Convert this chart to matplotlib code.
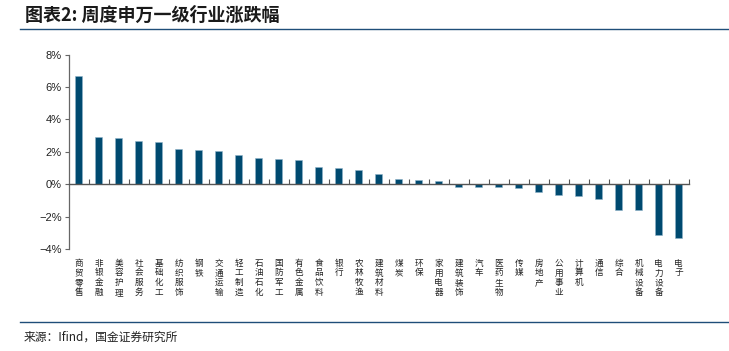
import numpy as np
import matplotlib
matplotlib.use('Agg')
import matplotlib.pyplot as plt
from matplotlib.lines import Line2D

plt.rcParams['font.family'] = ['Noto Sans CJK SC', 'DejaVu Sans']

# 行业名称
industries = ['商贸零售', '非银金融', '美容护理', '社会服务', '基础化工', '纺织服饰', '钢铁',
              '交通运输', '轻工制造', '石油石化', '国防军工', '有色金属', '食品饮料', '银行',
              '农林牧渔', '建筑材料', '煤炭', '环保', '家用电器', '建筑装饰', '汽车',
              '医药生物', '传媒', '房地产', '公用事业', '计算机', '通信', '综合',
              '机械设备', '电力设备', '电子']
# 周涨跌幅 (%)
changes = [6.69, 2.91, 2.87, 2.69, 2.60, 2.19, 2.13,
           2.05, 1.82, 1.61, 1.55, 1.49, 1.07, 1.01,
           0.89, 0.66, 0.35, 0.29, 0.19, -0.14, -0.14,
           -0.19, -0.23, -0.45, -0.64, -0.72, -0.93, -1.59,
           -1.61, -3.16, -3.33]
yticks = [-4, -2, 0, 2, 4, 6, 8]

bar_color = '#004A70'
line_color = '#1F4E79'
axis_color = '#666666'

fig = plt.figure(figsize=(7.29, 3.51), dpi=100)
ax = fig.add_axes([68.7 / 729, 1 - 249 / 351, 620 / 729, (249 - 54.7) / 351])

x = np.arange(len(industries))
ax.bar(x, changes, width=0.36, color=bar_color, edgecolor='#8fb3c9', linewidth=0.4)

ax.set_xlim(-0.5, len(industries) - 0.5)
ax.set_ylim(-4, 8)
ax.set_yticks(yticks)
ax.set_yticklabels([f'{v}%'.replace('-', '−') for v in yticks], fontsize=8,
                   family=['Liberation Sans', 'DejaVu Sans'], color='#222222')
ax.tick_params(axis='y', direction='out', length=3, width=0.8, color=axis_color, pad=2)

for s in ['top', 'right']:
    ax.spines[s].set_visible(False)
ax.spines['left'].set_color(axis_color)
ax.spines['left'].set_linewidth(0.9)
ax.spines['bottom'].set_position(('data', 0))
ax.spines['bottom'].set_color('#555555')
ax.spines['bottom'].set_linewidth(1.0)

# 分隔刻度
ax.set_xticks(np.arange(0.5, len(industries), 1))
ax.set_xticklabels([])
ax.tick_params(axis='x', direction='in', length=3.5, width=0.8, color='#555555')

# 竖排行业标签
trans = ax.get_xaxis_transform()
for i, name in enumerate(industries):
    ax.text(i, -0.05, '\n'.join(name), transform=trans, ha='center', va='top',
            fontsize=6.2, linespacing=1.1, color='#222222', clip_on=False)

# 标题
fig.text(25 / 729, 1 - 15 / 351, '图表2: 周度申万一级行业涨跌幅', fontsize=13,
         fontweight='bold', style='italic', color='#1a1a1a', va='center', ha='left')
fig.add_artist(Line2D([20 / 729, 1], [1 - 29.3 / 351] * 2, color=line_color, lw=1.0))

# 来源
fig.add_artist(Line2D([20 / 729, 1], [1 - 322.3 / 351] * 2, color=line_color, lw=1.0))
fig.text(24 / 729, 1 - 337 / 351, '来源：Ifind，国金证券研究所', fontsize=8.5,
         color='#222222', va='center', ha='left')

fig.savefig('out.png', dpi=100)
